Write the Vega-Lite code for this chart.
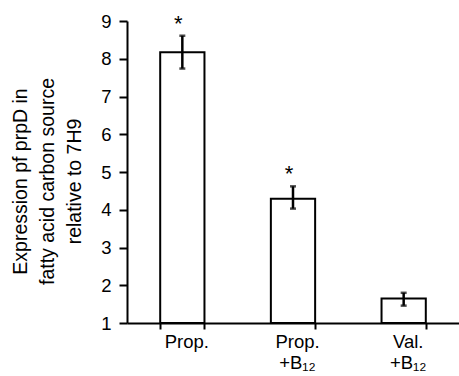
{
  "$schema": "https://vega.github.io/schema/vega-lite/v6.json",
  "width": 332,
  "height": 302,
  "autosize": {"type": "none"},
  "padding": {"left": 127, "top": 21, "right": 0, "bottom": 53},
  "background": "white",
  "config": {
    "view": {"stroke": null},
    "font": "Liberation Sans",
    "axisY": {
      "titleFontSize": 19.5,
      "titleFontWeight": "normal",
      "titleColor": "black",
      "titleLineHeight": 27,
      "titlePadding": 16,
      "titleY": 160,
      "labelOverlap": false,
      "labelFontSize": 18.5,
      "labelColor": "black",
      "labelPadding": 8,
      "domainColor": "black",
      "domainWidth": 2,
      "tickColor": "black",
      "tickWidth": 2,
      "tickSize": 8,
      "grid": false
    }
  },
  "data": {
    "values": [
      {"group": "Prop.", "mean": 8.17, "lo": 7.74, "hi": 8.61, "sig": "*"},
      {"group": "Prop. +B12", "mean": 4.29, "lo": 4.03, "hi": 4.62, "sig": "*"},
      {"group": "Val. +B12", "mean": 1.65, "lo": 1.46, "hi": 1.8, "sig": ""}
    ]
  },
  "encoding": {
    "x": {
      "field": "group",
      "type": "nominal",
      "sort": null,
      "scale": {"paddingInner": 0.6, "paddingOuter": 0.3},
      "axis": {
        "title": null,
        "labelAngle": 0,
        "labelFontSize": 18.5,
        "labelColor": "black",
        "labelPadding": 3,
        "labelOffset": 4,
        "labelLineHeight": 21,
        "labelExpr": "datum.value == 'Prop.' ? 'Prop.' : (datum.value == 'Prop. +B12' ? ['Prop.', '+B₁₂'] : (datum.value == 'Val. +B12' ? ['Val.', '+B₁₂'] : ''))",
        "domainColor": "black",
        "domainWidth": 2,
        "tickColor": "black",
        "tickWidth": 2,
        "tickSize": 6,
        "tickBand": "extent",
        "grid": false
      }
    }
  },
  "layer": [
    {
      "mark": {"type": "bar", "fill": "white", "stroke": "black", "strokeWidth": 2},
      "encoding": {
        "y": {
          "field": "mean",
          "type": "quantitative",
          "scale": {"domain": [1, 9], "zero": false, "nice": false},
          "axis": {"title": ["Expression pf prpD in", "fatty acid carbon source", "relative to 7H9"], "values": [1, 2, 3, 4, 5, 6, 7, 8, 9]}
        },
        "y2": {"datum": 1}
      }
    },
    {
      "mark": {"type": "rule", "stroke": "black", "strokeWidth": 2.5},
      "encoding": {
        "y": {"field": "lo", "type": "quantitative", "axis": {"title": ["Expression pf prpD in", "fatty acid carbon source", "relative to 7H9"], "values": [1, 2, 3, 4, 5, 6, 7, 8, 9]}},
        "y2": {"field": "hi"}
      }
    },
    {
      "mark": {"type": "tick", "color": "black", "size": 6, "thickness": 2.5},
      "encoding": {"y": {"field": "lo", "type": "quantitative", "axis": {"title": ["Expression pf prpD in", "fatty acid carbon source", "relative to 7H9"], "values": [1, 2, 3, 4, 5, 6, 7, 8, 9]}}}
    },
    {
      "mark": {"type": "tick", "color": "black", "size": 6, "thickness": 2.5},
      "encoding": {"y": {"field": "hi", "type": "quantitative", "axis": {"title": ["Expression pf prpD in", "fatty acid carbon source", "relative to 7H9"], "values": [1, 2, 3, 4, 5, 6, 7, 8, 9]}}}
    },
    {
      "mark": {"type": "text", "fontSize": 22, "baseline": "bottom", "dy": 0, "dx": -4, "color": "black"},
      "encoding": {
        "y": {"field": "hi", "type": "quantitative", "axis": {"title": ["Expression pf prpD in", "fatty acid carbon source", "relative to 7H9"], "values": [1, 2, 3, 4, 5, 6, 7, 8, 9]}},
        "text": {"field": "sig"}
      }
    }
  ]
}
